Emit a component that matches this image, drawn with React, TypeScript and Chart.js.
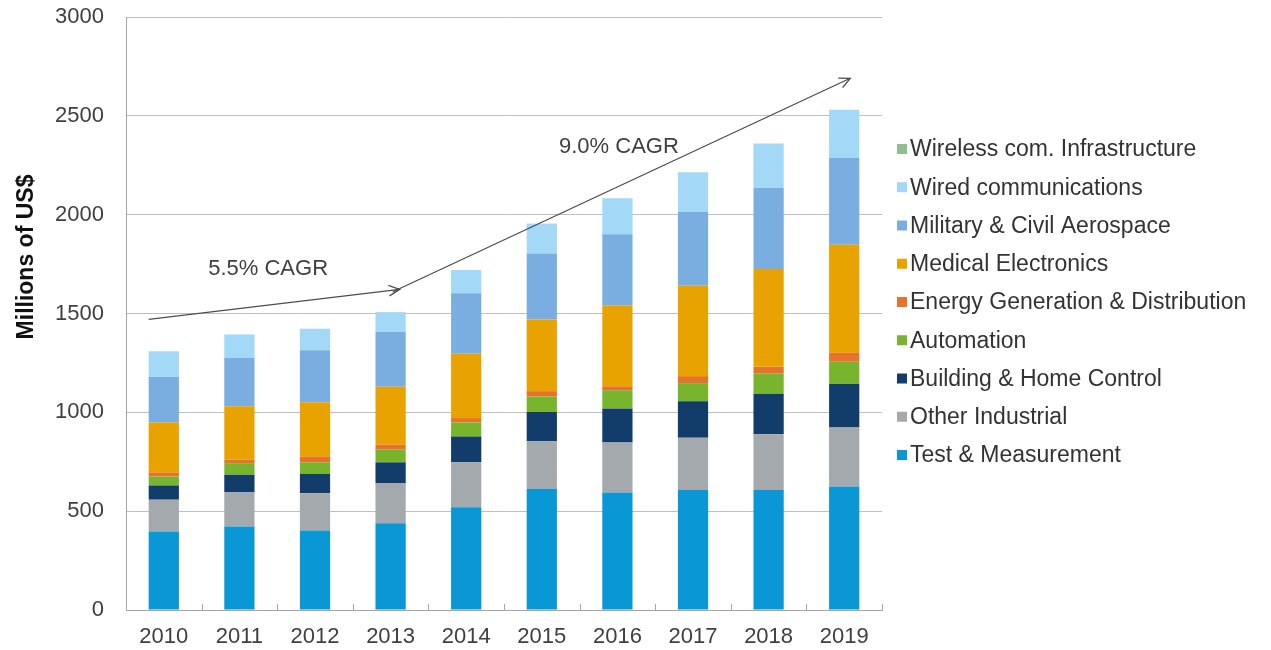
import React, { useEffect, useRef } from "react";
import { Chart, registerables } from "chart.js";

Chart.register(...registerables);

// ---------- data ----------
const years = ["2010", "2011", "2012", "2013", "2014", "2015", "2016", "2017", "2018", "2019"];

const testMeasurement = [397, 422, 402, 439, 520, 612, 595, 607, 607, 625];
const otherIndustrial = [161, 173, 189, 203, 227, 241, 253, 265, 282, 298];
const buildingHome = [72, 89, 97, 105, 131, 149, 172, 184, 205, 222];
const automation = [46, 59, 59, 64, 71, 79, 92, 92, 102, 111];
const energyGen = [20, 17, 30, 25, 22, 26, 20, 35, 34, 46];
const medical = [253, 271, 274, 293, 326, 363, 409, 457, 495, 546];
const military = [230, 245, 263, 277, 305, 334, 360, 375, 410, 440];
const wired = [130, 118, 109, 101, 118, 151, 182, 200, 225, 243];
const wireless = [0, 0, 0, 0, 0, 0, 0, 0, 0, 0];

const seriesNames = [
  "Test & Measurement",
  "Other Industrial",
  "Building & Home Control",
  "Automation",
  "Energy Generation & Distribution",
  "Medical Electronics",
  "Military & Civil Aerospace",
  "Wired communications",
  "Wireless com. Infrastructure",
];
const seriesValues = [
  testMeasurement,
  otherIndustrial,
  buildingHome,
  automation,
  energyGen,
  medical,
  military,
  wired,
  wireless,
];
const seriesColors = [
  "#0A97D6",
  "#A4A9AD",
  "#123D6A",
  "#78B52C",
  "#E6732A",
  "#E8A300",
  "#7BAEE0",
  "#A3D9F6",
  "#92BE8F",
];

const yMin = 0;
const yMax = 3000;
const yStep = 500;
const yTitle = "Millions of US$";

// CAGR annotations (category index, value)
const cagrLabels = ["5.5% CAGR", "9.0% CAGR"];
const cagrLabelAt = [
  [1.38, 1695],
  [6.02, 2313],
];
const cagrArrowFrom = [
  [-0.2, 1470],
  [3.03, 1610],
];
const cagrArrowTo = [
  [3.12, 1622],
  [9.08, 2690],
];

const FONT = "'Liberation Sans', Arial, Helvetica, sans-serif";

const overlayPlugin = {
  id: "overlay",
  afterDatasetsDraw(chart: any) {
    const { ctx, chartArea, scales } = chart;
    const xs = scales.x;
    const ys = scales.y;
    ctx.save();

    // inner tick marks on x axis at category boundaries
    ctx.strokeStyle = "#A6A6A6";
    ctx.lineWidth = 1;
    for (let i = 0; i <= years.length; i++) {
      const px = Math.round(xs.getPixelForValue(i - 0.5)) + 0.5;
      ctx.beginPath();
      ctx.moveTo(px, chartArea.bottom);
      ctx.lineTo(px, chartArea.bottom - 6);
      ctx.stroke();
    }

    // arrows
    ctx.strokeStyle = "#4D4D4D";
    ctx.lineWidth = 1.3;
    for (let i = 0; i < cagrLabels.length; i++) {
      const x1 = xs.getPixelForValue(cagrArrowFrom[i][0]);
      const y1 = ys.getPixelForValue(cagrArrowFrom[i][1]);
      const x2 = xs.getPixelForValue(cagrArrowTo[i][0]);
      const y2 = ys.getPixelForValue(cagrArrowTo[i][1]);
      ctx.beginPath();
      ctx.moveTo(x1, y1);
      ctx.lineTo(x2, y2);
      ctx.stroke();
      const ang = Math.atan2(y2 - y1, x2 - x1);
      const len = 12;
      const spread = 0.45;
      ctx.beginPath();
      ctx.moveTo(x2 - len * Math.cos(ang - spread), y2 - len * Math.sin(ang - spread));
      ctx.lineTo(x2, y2);
      ctx.lineTo(x2 - len * Math.cos(ang + spread), y2 - len * Math.sin(ang + spread));
      ctx.stroke();
    }

    // labels
    ctx.fillStyle = "#404040";
    ctx.font = `22px ${FONT}`;
    ctx.textAlign = "center";
    ctx.textBaseline = "alphabetic";
    for (let i = 0; i < cagrLabels.length; i++) {
      ctx.fillText(
        cagrLabels[i],
        xs.getPixelForValue(cagrLabelAt[i][0]),
        ys.getPixelForValue(cagrLabelAt[i][1])
      );
    }
    ctx.restore();
  },
  afterDraw(chart: any) {
    const { ctx, chartArea } = chart;
    ctx.save();
    // y-axis title
    ctx.translate(27, 257);
    ctx.rotate(-Math.PI / 2);
    ctx.fillStyle = "#111111";
    ctx.font = `bold 23px ${FONT}`;
    ctx.textAlign = "center";
    ctx.textBaseline = "middle";
    ctx.fillText(yTitle, 0, 0);
    ctx.restore();

    // legend (reverse order, top = last series)
    ctx.save();
    ctx.font = `23px ${FONT}`;
    ctx.textBaseline = "middle";
    ctx.textAlign = "left";
    const n = seriesNames.length;
    const rowH = 38.25;
    const top = chartArea.top + 132;
    const boxX = chartArea.right + 15;
    const textX = chartArea.right + 28;
    for (let k = 0; k < n; k++) {
      const idx = n - 1 - k;
      const cy = top + k * rowH;
      ctx.fillStyle = seriesColors[idx];
      ctx.fillRect(boxX, cy - 5, 10, 10);
      ctx.fillStyle = "#333333";
      ctx.fillText(seriesNames[idx], textX, cy + 1);
    }
    ctx.restore();
  },
};

export default function App() {
  const canvasRef = useRef<HTMLCanvasElement | null>(null);

  useEffect(() => {
    if (!canvasRef.current) return;
    const chart = new Chart(canvasRef.current, {
      type: "bar",
      data: {
        labels: years,
        datasets: seriesNames.map((name, i) => ({
          label: name,
          data: seriesValues[i],
          backgroundColor: seriesColors[i],
          borderWidth: 0,
          barPercentage: 0.4,
          categoryPercentage: 1,
        })),
      },
      options: {
        animation: false,
        responsive: true,
        maintainAspectRatio: false,
        layout: { padding: { left: 0, right: 389, top: 0, bottom: 0 } },
        plugins: {
          legend: { display: false },
          tooltip: { enabled: false },
          title: { display: false },
        },
        scales: {
          x: {
            stacked: true,
            grid: { display: false, drawTicks: false },
            border: { display: true, color: "#A6A6A6", width: 1 },
            ticks: {
              color: "#404040",
              font: { family: FONT, size: 22 },
              padding: 14,
              maxRotation: 0,
            },
            afterFit: (s: any) => {
              s.height = 40;
            },
          },
          y: {
            stacked: true,
            min: yMin,
            max: yMax,
            grid: { color: "#BFBFBF", lineWidth: 1, drawTicks: false },
            border: { display: true, color: "#A6A6A6", width: 1 },
            ticks: {
              stepSize: yStep,
              color: "#404040",
              font: { family: FONT, size: 22 },
              padding: 22,
              callback: (v: any) => String(v),
            },
            afterFit: (s: any) => {
              s.width = 126;
              s.paddingTop = 17;
              s.paddingBottom = 0;
            },
          },
        },
      },
      plugins: [overlayPlugin],
    });
    return () => chart.destroy();
  }, []);

  return (
    <div
      style={{
        position: "fixed",
        left: 0,
        top: 0,
        width: 1271,
        height: 650,
        background: "#ffffff",
      }}
    >
      <canvas ref={canvasRef} />
    </div>
  );
}
